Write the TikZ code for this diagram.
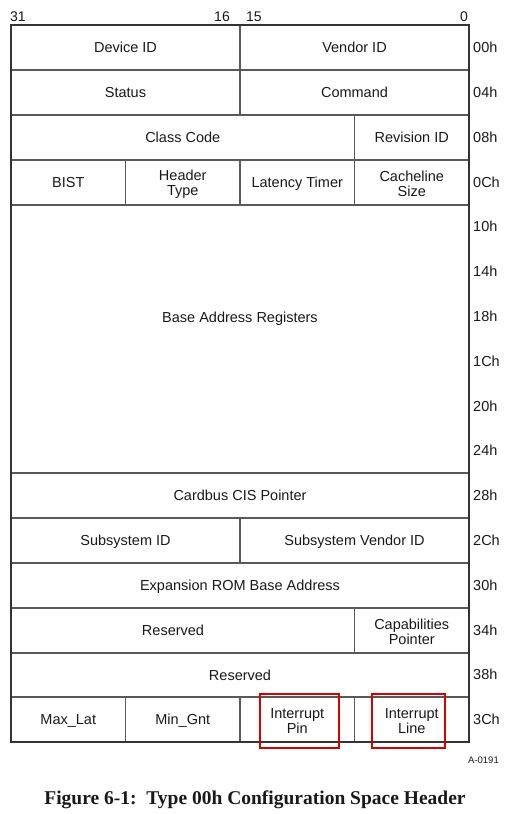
\documentclass[tikz,border=0pt]{standalone}
\usepackage{fontspec}
\setmainfont{Liberation Serif}
\setsansfont{Liberation Sans}
\usetikzlibrary{positioning}

\begin{document}
\begin{tikzpicture}[x=1pt, y=-1pt,
    every node/.style={inner sep=0pt, text=black!90, font=\sffamily\fontsize{14.5}{15}\selectfont},
    field/.style={text height=10.5pt, text depth=3pt, yshift=-1.5pt},
    twoline/.style={align=center, yshift=-1.5pt},
    offset/.style={anchor=west, text height=10.5pt, text depth=3pt, yshift=-1.5pt},
    bitnum/.style={font=\sffamily\fontsize{14}{14}\selectfont},
    frame/.style={draw=black!80, line width=2pt},
    grid line/.style={draw=black!65, line width=1.2pt},
    hilite/.style={draw=red!85!black, line width=1.8pt}]

    \useasboundingbox (0,0) rectangle (505,814);

    % bit numbers
    \node[bitnum, anchor=base west] (b31) at (10,21) {31};
    \node[bitnum, anchor=base east] (b16) at (230,21) {16};
    \node[bitnum, anchor=base west] (b15) at (246,21) {15};
    \node[bitnum, anchor=base east] (b0) at (468,21) {0};

    % row lines
    \path[grid line] (11,70) -- (469,70)
                     (11,115) -- (469,115)
                     (11,160) -- (469,160)
                     (11,205) -- (469,205)
                     (11,473) -- (469,473)
                     (11,518) -- (469,518)
                     (11,563) -- (469,563)
                     (11,608) -- (469,608)
                     (11,653) -- (469,653)
                     (11,697) -- (469,697);

    % column lines
    \path[grid line] (240,25) -- (240,115)
                     (354.5,115) -- (354.5,205)
                     (125.5,160) -- (125.5,205)
                     (240,160) -- (240,205)
                     (240,518) -- (240,563)
                     (354.5,608) -- (354.5,653)
                     (125.5,697) -- (125.5,742)
                     (240,697) -- (240,742)
                     (354.5,697) -- (354.5,742);

    \path[frame] (11,25) rectangle (469,742);

    \node[field] (devid) at (125.5,47.5) {Device ID};
    \node[field] (vendid) at (354.5,47.5) {Vendor ID};
    \node[field] (status) at (125.5,92.5) {Status};
    \node[field] (cmd) at (354.5,92.5) {Command};
    \node[field] (class) at (182.75,137.5) {Class Code};
    \node[field] (rev) at (411.75,137.5) {Revision ID};
    \node[field] (bist) at (68.25,182.5) {BIST};
    \node[twoline] (hdr) at (182.75,182.5) {Header\\Type};
    \node[field] (lat) at (297.25,182.5) {Latency Timer};
    \node[twoline] (cache) at (411.75,182.5) {Cacheline\\Size};
    \node[field] (bar) at (240,317) {Base Address Registers};
    \node[field] (cis) at (240,495.5) {Cardbus CIS Pointer};
    \node[field] (subid) at (125.5,540.5) {Subsystem ID};
    \node[field] (subvend) at (354.5,540.5) {Subsystem Vendor ID};
    \node[field] (rom) at (240,585.5) {Expansion ROM Base Address};
    \node[field] (rsvda) at (173,630.5) {Reserved};
    \node[twoline] (cap) at (411.75,630.5) {Capabilities\\Pointer};
    \node[field] (rsvdb) at (240,675) {Reserved};
    \node[field] (maxlat) at (68.25,719.5) {Max\_Lat};
    \node[field] (mingnt) at (182.75,719.5) {Min\_Gnt};
    \node[twoline] (intpin) at (297.25,719.5) {Interrupt\\Pin};
    \node[twoline] (intline) at (411.75,719.5) {Interrupt\\Line};

    % highlighted fields
    \path[hilite] (260,694) rectangle (339,748)
                  (372,694) rectangle (445,748);

    % offsets
    \foreach \lbl [count=\i from 0] in {00h,04h,08h,0Ch,10h,14h,18h,1Ch,20h,24h,28h,2Ch,30h,34h,38h,3Ch}
        \node[offset] (off-\i) at (473,47.4+44.8*\i) {\lbl};

    \node[anchor=base east, font=\sffamily\fontsize{9.5}{10}\selectfont] (fignum) at (499,763.3) {A-0191};

    \node[anchor=base, font=\rmfamily\bfseries\fontsize{19.5}{20}\selectfont] (caption) at (255,804)
        {Figure 6-1:\ \ Type 00h Configuration Space Header};

\end{tikzpicture}
\end{document}
